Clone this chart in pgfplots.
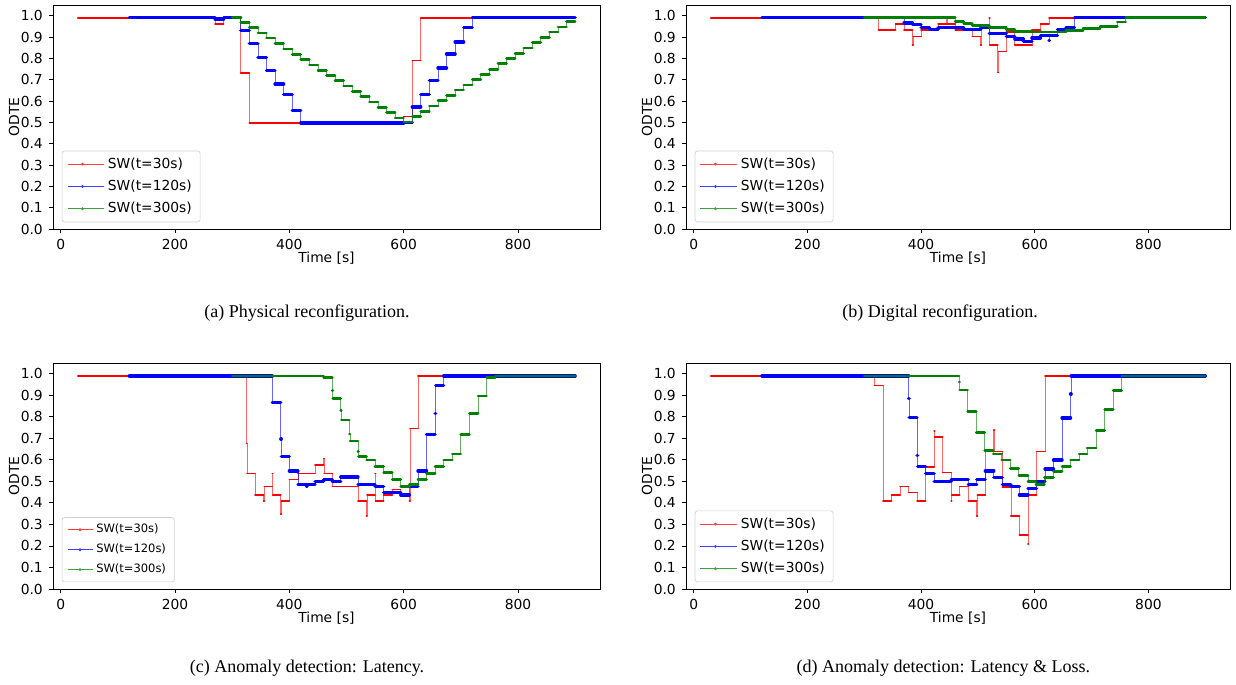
\documentclass[border=0pt]{standalone}
\usepackage{fontspec}
\setmainfont{DejaVu Sans}
\newfontfamily\capfont{Liberation Serif}
\usepackage{pgfplots}
\pgfplotsset{compat=1.18}
\usepackage{pgfplotstable}
\definecolor{mplgreen}{HTML}{008000}

% ---------------- Panel (a) ----------------
\pgfplotstableread{
t v
30 0.99
270 0.96
285 0.99
315 0.73
330 0.497
600 0.528
615 0.79
630 0.99
900 0.99
}\redA
\pgfplotstableread{
t v
120 0.99
270 0.985
285 0.99
315 0.929
330 0.871
345 0.805
360 0.744
375 0.679
390 0.631
405 0.557
420 0.497
600 0.50
615 0.572
630 0.631
645 0.697
660 0.755
675 0.821
690 0.877
705 0.943
720 0.99
900 0.99
}\blueA
\pgfplotstableread{
t v
300 0.99
315 0.969
330 0.945
345 0.918
360 0.895
375 0.870
390 0.844
405 0.819
420 0.794
435 0.769
450 0.744
465 0.718
480 0.695
495 0.670
510 0.646
525 0.621
540 0.596
555 0.571
570 0.546
585 0.520
600 0.501
615 0.527
630 0.550
645 0.577
660 0.601
675 0.626
690 0.651
705 0.675
720 0.700
735 0.723
750 0.748
765 0.775
780 0.799
795 0.824
810 0.848
825 0.874
840 0.898
855 0.923
870 0.947
885 0.973
900 0.973
}\greenA

% ---------------- Panel (b) ----------------
\pgfplotstableread{
t v
30 0.99
325 0.934
355 0.962
370 0.934
385 0.863
386 0.902
400 0.934
430 0.962
445 0.986
446 0.962
460 0.934
490 0.902
505 0.863
506 0.945
520 0.99
521 0.863
535 0.733
536 0.832
550 0.923
565 0.863
595 0.934
610 0.962
625 0.99
900 0.99
}\redB
\pgfplotstableread{
t v
120 0.99
370 0.965
385 0.958
400 0.945
415 0.934
430 0.945
475 0.934
505 0.945
520 0.915
550 0.902
565 0.89
580 0.879
595 0.895
610 0.906
625 0.884
626 0.906
640 0.934
655 0.945
670 0.99
900 0.99
}\blueB
\pgfplotstableread{
t v
300 0.99
460 0.973
475 0.962
490 0.953
520 0.945
550 0.934
565 0.925
595 0.923
655 0.93
685 0.94
715 0.95
745 0.97
760 0.99
900 0.99
}\greenB

% ---------------- Panel (c) ----------------
\pgfplotstableread{
t v
30 0.99
325 0.676
326 0.537
340 0.437
355 0.409
356 0.477
370 0.537
371 0.437
385 0.347
386 0.409
400 0.509
415 0.537
445 0.575
460 0.606
461 0.537
475 0.477
520 0.409
535 0.34
536 0.437
550 0.537
551 0.409
565 0.437
580 0.463
595 0.437
610 0.409
611 0.745
625 0.99
900 0.99
}\redC
\pgfplotstableread{
t v
120 0.99
370 0.865
385 0.697
386 0.616
400 0.549
415 0.487
430 0.477
431 0.487
445 0.498
460 0.509
475 0.498
490 0.521
520 0.487
550 0.477
565 0.448
595 0.437
610 0.477
625 0.549
640 0.717
655 0.816
656 0.945
670 0.99
900 0.99
}\blueC
\pgfplotstableread{
t v
300 0.99
460 0.984
475 0.922
476 0.886
490 0.83
491 0.785
505 0.72
506 0.687
520 0.64
521 0.616
535 0.599
550 0.568
565 0.541
580 0.509
595 0.477
610 0.487
625 0.509
640 0.537
655 0.568
670 0.599
685 0.627
700 0.717
715 0.816
730 0.896
745 0.984
760 0.99
900 0.99
}\greenC

% ---------------- Panel (d) ----------------
\pgfplotstableread{
t v
30 0.99
318 0.945
333 0.409
348 0.437
363 0.477
378 0.448
393 0.409
408 0.568
423 0.735
424 0.707
438 0.541
453 0.409
454 0.437
468 0.477
483 0.409
498 0.339
499 0.437
513 0.639
528 0.739
529 0.639
543 0.475
558 0.339
573 0.25
588 0.21
589 0.437
603 0.639
618 0.99
900 0.99
}\redD
\pgfplotstableread{
t v
120 0.99
378 0.886
379 0.798
393 0.619
394 0.568
408 0.537
423 0.498
453 0.509
483 0.487
498 0.509
513 0.549
528 0.518
543 0.487
558 0.477
573 0.437
588 0.468
603 0.498
618 0.557
633 0.599
648 0.795
663 0.906
664 0.99
900 0.99
}\blueD
\pgfplotstableread{
t v
300 0.99
467 0.961
468 0.925
482 0.826
497 0.726
512 0.645
527 0.627
542 0.599
557 0.56
572 0.527
588 0.498
602 0.487
617 0.518
633 0.546
648 0.568
663 0.599
678 0.627
692 0.655
708 0.735
723 0.833
738 0.922
753 0.99
900 0.99
}\greenD

\newcommand{\series}[3]{%
  \addplot[const plot, #1, opacity=0.6, line width=0.45pt, forget plot] table[x=t,y=v] {#3};
  \addplot[jump mark left, #1, line width=#2, line cap=round, forget plot] table[x=t,y=v] {#3};
}
\newcommand{\legendentries}{%
  \addlegendimage{red!75, line width=0.5pt}
  \addlegendentry{SW(t=30s)}
  \addlegendimage{blue!75, line width=0.5pt}
  \addlegendentry{SW(t=120s)}
  \addlegendimage{mplgreen!75, line width=0.5pt}
  \addlegendentry{SW(t=300s)}
}

\pgfplotsset{
  odte/.style={
    scale only axis,
    xmin=-13.5, xmax=943.5, ymin=0, ymax=1.05,
    xtick={0,200,400,600,800},
    ytick={0,0.1,0.2,0.3,0.4,0.5,0.6,0.7,0.8,0.9,1.0},
    yticklabel style={/pgf/number format/.cd, fixed, fixed zerofill, precision=1},
    /pgf/number format/assume math mode=true,
    tick pos=left, tick align=outside, major tick length=2.6pt,
    tick style={black, line width=0.5pt},
    axis line style={line width=0.55pt},
    every tick label/.append style={font=\fontsize{8.3}{10}\selectfont},
    label style={font=\fontsize{8.3}{10}\selectfont},
    xlabel={Time [s]}, ylabel={ODTE},
    xlabel style={yshift=5.3pt},
    ylabel style={yshift=-6pt},
    legend cell align=left,
    legend image code/.code={%
      \draw[##1] (0pt,0pt) -- (18pt,0pt);
      \fill[##1] (9pt,0pt) circle (0.6pt);
      \path (0pt,0pt) -- (22pt,0pt);
    },
    legend style={at={(0.016,0.03)}, anchor=south west, draw=black!18,
      rounded corners=1.5pt, font=\fontsize{8.3}{10}\selectfont,
      row sep=1.6pt, inner xsep=3pt, inner ysep=2pt},
  }
}

\begin{document}
\begin{tikzpicture}
\path (0pt,0pt) rectangle (741.6pt,410.4pt);

% (a)
\begin{axis}[odte, at={(31.8pt,273pt)}, anchor=south west, width=328.2pt, height=134.4pt]
\series{red}{1.0pt}{\redA}
\series{blue}{2.0pt}{\blueA}
\series{mplgreen}{1.6pt}{\greenA}
\legendentries
\end{axis}

% (b)
\begin{axis}[odte, at={(411.6pt,273pt)}, anchor=south west, width=326.4pt, height=134.4pt]
\series{red}{1.0pt}{\redB}
\series{blue}{2.0pt}{\blueB}
\series{mplgreen}{1.6pt}{\greenB}
\legendentries
\end{axis}

% (c)
\begin{axis}[odte, at={(31.8pt,57pt)}, anchor=south west, width=328.2pt, height=135.6pt,
  legend style={font=\fontsize{6.9}{8}\selectfont, row sep=1.2pt},
  legend image code/.code={%
      \draw[#1] (0pt,0pt) -- (15pt,0pt);
      \fill[#1] (7.5pt,0pt) circle (0.6pt);
    }]
\series{red}{1.0pt}{\redC}
\series{blue}{2.0pt}{\blueC}
\series{mplgreen}{1.6pt}{\greenC}
\legendentries
\end{axis}

% (d)
\begin{axis}[odte, at={(411.6pt,57pt)}, anchor=south west, width=326.4pt, height=135.6pt]
\series{red}{1.0pt}{\redD}
\series{blue}{2.0pt}{\blueD}
\series{mplgreen}{1.6pt}{\greenD}
\legendentries
\end{axis}

\node[font=\capfont\fontsize{10.8}{12}\selectfont] at (184.2pt,222.6pt) {(a) Physical reconfiguration.};
\node[font=\capfont\fontsize{10.8}{12}\selectfont] at (564pt,222.6pt) {(b) Digital reconfiguration.};
\node[font=\capfont\fontsize{10.8}{12}\selectfont] at (184.2pt,9.6pt) {(c) Anomaly detection: Latency.};
\node[font=\capfont\fontsize{10.8}{12}\selectfont] at (566pt,9.6pt) {(d) Anomaly detection: Latency \& Loss.};
\end{tikzpicture}
\end{document}
